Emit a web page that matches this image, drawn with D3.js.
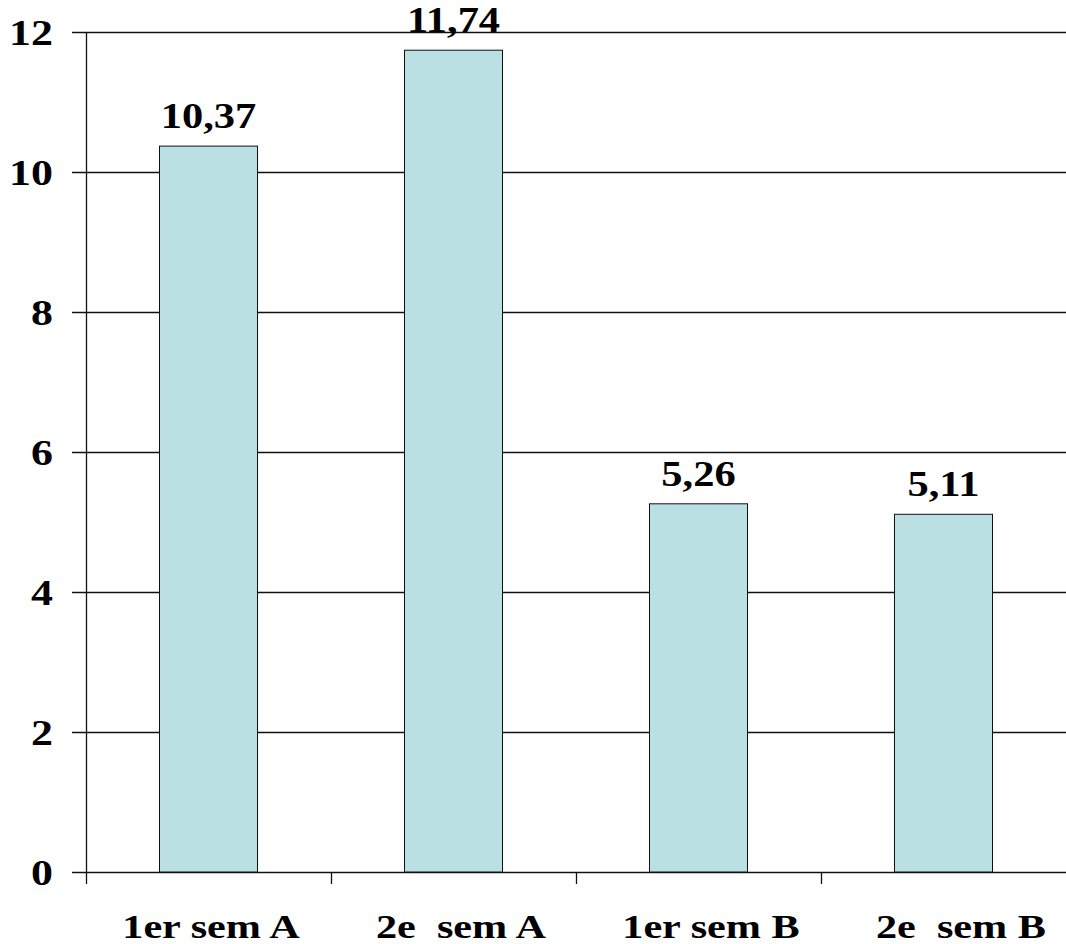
<!DOCTYPE html>
<html>
<head>
<meta charset="utf-8">
<script src="https://cdn.jsdelivr.net/npm/d3@7"></script>
<style>
  html, body { margin: 0; padding: 0; background: #fff; }
</style>
</head>
<body>
<svg id="chart" width="1066" height="944"></svg>
<script>
// Semester results per group
const categories = ["1er sem A", "2e  sem A", "1er sem B", "2e  sem B"];
const values = [10.37, 11.74, 5.26, 5.11];
const valueLabels = ["10,37", "11,74", "5,26", "5,11"];
const yTicks = [0, 2, 4, 6, 8, 10, 12];

const W = 1066, H = 944;
const margin = { top: 32, right: 0, bottom: 72, left: 86 };
const FONT = "'Liberation Serif', 'Times New Roman', 'DejaVu Serif', serif";
const LINE = "#111";

const svg = d3.select("#chart");

const x = d3.scaleBand()
  .domain(categories)
  .range([margin.left, W - margin.right])
  .paddingInner(0.6)
  .paddingOuter(0.3);

// Category slots without padding: their edges carry the axis ticks
const slot = d3.scaleBand()
  .domain(categories)
  .range([margin.left, W - margin.right]);

// Category captions sit on a slightly wider pitch than the plot
const captionX = d3.scaleBand()
  .domain(categories)
  .range([margin.left, margin.left + 1000]);

const y = d3.scaleLinear()
  .domain([0, 12])
  .range([H - margin.bottom, margin.top]);

// Bold serif text
function label(sel, size, anchor) {
  return sel
    .attr("font-family", FONT)
    .attr("font-weight", "bold")
    .attr("font-size", size)
    .attr("fill", "#000")
    .attr("text-anchor", anchor);
}

// Horizontal gridlines with outward tick marks
svg.append("g")
  .selectAll("line")
  .data(yTicks)
  .join("line")
  .attr("x1", margin.left - 14)
  .attr("x2", W - margin.right)
  .attr("y1", d => Math.round(y(d)) + 0.5)
  .attr("y2", d => Math.round(y(d)) + 0.5)
  .attr("stroke", LINE)
  .attr("stroke-width", 1.3);

// Y tick labels
svg.append("g")
  .selectAll("text")
  .data(yTicks)
  .join("text")
  .attr("transform", d => `translate(53,${y(d) + 13}) scale(1.22,1)`)
  .call(label, 36, "end")
  .text(d => d);

// Bars
svg.append("g")
  .selectAll("rect")
  .data(values)
  .join("rect")
  .attr("x", (d, i) => x(categories[i]))
  .attr("y", d => y(d))
  .attr("width", x.bandwidth())
  .attr("height", d => y(0) - y(d))
  .attr("fill", "#bbe0e3")
  .attr("stroke", LINE)
  .attr("stroke-width", 1);

// Value labels above bars
svg.append("g")
  .selectAll("text")
  .data(values)
  .join("text")
  .attr("transform", (d, i) =>
    `translate(${x(categories[i]) + x.bandwidth() / 2},${y(d) - 18}) scale(1.18,1)`)
  .call(label, 36, "middle")
  .text((d, i) => valueLabels[i]);

// Y axis line
svg.append("line")
  .attr("x1", margin.left + 0.5).attr("x2", margin.left + 0.5)
  .attr("y1", y(12)).attr("y2", y(0) + 12)
  .attr("stroke", LINE).attr("stroke-width", 1.3);

// Category tick marks below the baseline
svg.append("g")
  .selectAll("line")
  .data(categories.slice(1))
  .join("line")
  .attr("x1", d => Math.round(slot(d)) + 0.5)
  .attr("x2", d => Math.round(slot(d)) + 0.5)
  .attr("y1", y(0))
  .attr("y2", y(0) + 12)
  .attr("stroke", LINE)
  .attr("stroke-width", 1.3);

// Category labels
svg.append("g")
  .selectAll("text")
  .data(categories)
  .join("text")
  .attr("transform", d => `translate(${captionX(d) + captionX.bandwidth() / 2},${y(0) + 66}) scale(1.28,1)`)
  .call(label, 33, "middle")
  .attr("xml:space", "preserve")
  .style("white-space", "pre")
  .text(d => d);
</script>
</body>
</html>
